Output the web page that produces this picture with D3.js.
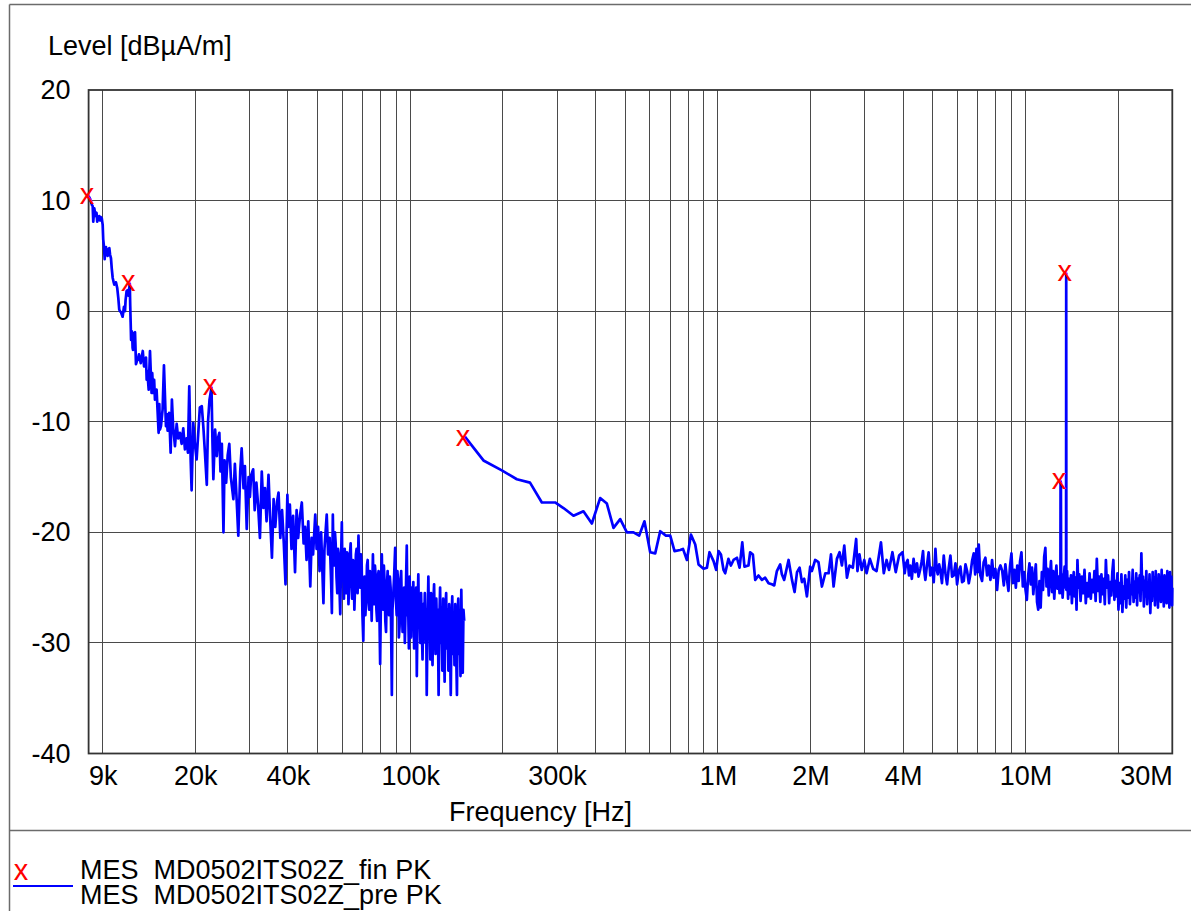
<!DOCTYPE html>
<html><head><meta charset="utf-8">
<script src="https://cdn.jsdelivr.net/npm/d3@7/dist/d3.min.js"></script>
<style>
html,body{margin:0;padding:0;background:#fff;}
svg{display:block;font-family:"Liberation Sans",Arial,Helvetica,sans-serif;}
</style></head><body>
<svg id="c" width="1191" height="911"></svg>
<script>
// ---- axis / tick data ----
const xTickValues = [9e3, 2e4, 4e4, 1e5, 3e5, 1e6, 2e6, 4e6, 1e7, 3e7];
const xTickLabels = ["9k", "20k", "40k", "100k", "300k", "1M", "2M", "4M", "10M", "30M"];
const yTickValues = [20, 10, 0, -10, -20, -30, -40];
const yTickLabels = ["20", "10", "0", "-10", "-20", "-30", "-40"];

// ---- final (fin PK) markers ----
const finFreqHz = [9000, 12250, 22580, 150000, 13000000, 13560000];
const finLevel = [10.4, 2.5, -6.9, -11.5, -15.4, 3.4];

// ---- preview scan 9 kHz - 150 kHz  [kHz, dBuA/m] ----
const preLowKHz = [
[9.00,10.4],[9.09,10.2],[9.16,9.9],[9.23,9.6],[9.28,9.5],[9.32,8.1],[9.39,9.3],[9.44,8.9],[9.49,8.6],[9.55,8.9],
[9.60,8.1],[9.67,8.4],[9.74,8.6],[9.80,8.2],[9.86,8.5],[9.93,8.4],[10.00,7.8],[10.04,6.5],[10.10,5.8],[10.15,4.7],
[10.19,5.6],[10.25,5.8],[10.31,5.2],[10.38,5.0],[10.44,5.6],[10.51,5.7],[10.57,5.1],[10.64,4.8],[10.70,3.9],[10.78,3.0],
[10.84,2.7],[10.91,2.4],[10.98,2.6],[11.05,2.6],[11.15,2.1],[11.24,1.2],[11.32,0.15],[11.38,0.0],[11.47,-0.1],[11.61,-0.5],
[11.73,0.4],[11.82,0.0],[11.87,1.0],[11.96,1.8],[12.05,1.9],[12.13,1.4],[12.25,2.5],[12.29,0.5],[12.33,-1.0],[12.37,-2.6],
[12.42,-1.8],[12.47,-2.0],[12.51,-3.3],[12.55,-3.5],[12.64,-2.0],[12.74,-1.9],[12.83,-4.8],[12.89,-4.6],[13.06,-4.2],[13.12,-3.9],
[13.30,-4.7],[13.50,-3.6],[13.63,-5.0],[13.83,-4.2],[13.90,-6.2],[13.97,-5.4],[14.11,-7.1],[14.25,-3.6],[14.35,-5.9],[14.42,-7.4],
[14.49,-5.6],[14.60,-7.4],[14.70,-6.2],[14.79,-8.0],[14.97,-7.1],[15.20,-11.0],[15.28,-8.4],[15.35,-10.7],[15.47,-10.4],[15.66,-8.9],
[15.82,-4.9],[16.06,-10.4],[16.14,-9.3],[16.26,-10.8],[16.45,-9.2],[16.63,-12.8],[16.79,-8.0],[16.95,-10.5],[17.18,-12.2],[17.40,-10.2],
[17.60,-11.5],[17.83,-11.0],[18.06,-12.0],[18.28,-10.6],[18.51,-12.5],[18.74,-11.5],[18.93,-12.8],[19.12,-6.8],[19.32,-13.4],[19.46,-16.2],
[19.70,-10.1],[19.94,-12.0],[20.2,-13.4],[20.7,-8.7],[21.0,-8.6],[21.25,-10.5],[21.5,-12.8],[21.8,-15.7],[22.0,-10.0],[22.25,-8.0],
[22.58,-6.9],[22.75,-11.9],[22.9,-15.2],[23.2,-10.7],[23.5,-13.1],[23.7,-11.5],[23.95,-11.0],[24.15,-14.5],[24.4,-12.0],[24.7,-20.0],
[24.9,-13.5],[25.2,-15.5],[25.5,-13.0],[25.8,-12.0],[26.1,-15.0],[26.6,-17.0],[26.9,-13.8],[27.2,-16.5],[27.6,-20.3],[28.0,-14.5],
[28.3,-12.4],[28.7,-16.0],[29.0,-14.0],[29.4,-19.7],[29.8,-15.0],[30.1,-16.8],[30.4,-14.8],[30.85,-14.3],[31.2,-18.0],[31.6,-15.5],
[32.0,-17.5],[32.45,-20.5],[32.9,-14.5],[33.3,-17.8],[33.7,-16.0],[34.1,-19.0],[34.6,-14.8],[35.0,-18.5],[35.5,-22.3],[35.95,-17.0],
[36.4,-19.5],[36.9,-17.2],[37.3,-16.4],[37.8,-20.5],[38.3,-18.0],[38.8,-21.0],[39.3,-24.7],[39.85,-16.6],[40.1,-19.5],[40.6,-17.5],
[41.1,-21.5],[41.6,-18.5],[42.2,-23.6],[42.7,-18.0],[43.2,-20.5],[43.8,-18.5],[44.4,-17.3],[45.0,-21.0],[45.5,-19.5],[46.0,-22.5],
[46.6,-19.0],[47.3,-24.9],[47.8,-20.5],[48.3,-22.0],[49.1,-18.4],[49.6,-21.5],[50.15,-19.5],[50.7,-23.5],[51.3,-20.0],[52.2,-26.4],
[52.6,-21.5],[53.5,-18.4],[54.05,-22.0],[54.7,-20.5],[55.3,-24.5],[55.6,-27.3],[56.0,-18.4],[56.3,-22.5],[56.6,-23.0],[56.9,-20.0],
[57.2,-21.0],[57.55,-24.0],[57.9,-25.5],[58.2,-21.5],[58.5,-22.0],[58.85,-25.0],[59.2,-27.4],[59.55,-22.5],[59.9,-19.1],[60.2,-24.0],
[60.5,-23.5],[60.85,-26.0],[61.2,-21.5],[61.55,-23.0],[61.9,-25.5],[62.25,-21.8],[62.6,-22.0],[62.95,-26.5],[63.3,-24.5],[63.65,-22.0],
[64.0,-21.0],[64.35,-24.0],[64.7,-26.0],[65.1,-22.5],[65.45,-23.0],[65.8,-27.0],[66.2,-24.5],[66.55,-22.0],[66.9,-21.5],[67.4,-25.5],
[67.85,-20.3],[68.3,-23.5],[68.7,-25.0],[69.1,-22.0],[69.5,-23.0],[69.9,-27.5],[70.35,-29.8],[70.7,-25.0],[71.0,-24.0],[71.45,-27.5],
[71.9,-26.0],[72.3,-23.0],[72.7,-22.5],[73.1,-26.0],[73.5,-27.0],[73.9,-23.5],[74.3,-24.0],[74.9,-28.0],[75.6,-22.0],[75.95,-25.5],
[76.3,-26.5],[76.75,-23.0],[77.2,-24.0],[77.6,-27.0],[78.0,-28.0],[78.45,-24.0],[78.9,-23.5],[79.35,-27.0],[79.8,-31.9],[80.3,-25.5],
[80.8,-22.0],[81.2,-25.0],[81.6,-27.0],[82.05,-23.0],[82.5,-24.5],[82.95,-28.0],[83.4,-29.0],[83.9,-25.0],[84.4,-23.5],[84.85,-26.5],
[85.3,-27.5],[85.8,-24.0],[86.3,-25.0],[86.7,-29.5],[87.1,-34.7],[87.5,-27.0],[87.9,-26.0],[88.6,-24.0],[89.3,-21.4],[89.8,-26.0],
[90.3,-27.5],[90.8,-23.5],[91.3,-24.5],[91.8,-29.5],[92.3,-28.5],[92.85,-24.5],[93.4,-23.5],[93.9,-27.0],[94.4,-29.0],[94.95,-25.5],
[95.5,-25.0],[96.0,-30.0],[96.5,-27.0],[96.95,-24.0],[97.4,-21.2],[97.9,-27.5],[98.4,-26.5],[98.95,-30.5],[99.5,-24.0],[100.0,-27.0],
[100.6,-29.5],[101.2,-25.0],
[101.7,-27.5],[102.3,-24.5],[102.9,-30.5],[103.4,-26.5],[104.0,-28.0],[104.5,-25.0],[105.0,-33.0],[105.6,-27.0],[106.2,-23.8],[106.7,-28.5],
[107.2,-26.0],[107.8,-30.0],[108.4,-25.5],[109.0,-28.5],[109.6,-31.5],[110.2,-26.5],[110.9,-29.0],[111.5,-25.5],[112.1,-30.0],[112.6,-27.0],
[113.1,-34.7],[113.8,-28.0],[114.5,-24.0],[115.0,-29.0],[115.5,-26.5],[116.2,-31.5],[116.8,-25.5],[117.4,-29.0],[118.1,-32.0],[118.8,-26.5],
[119.5,-24.7],[120.1,-28.5],[120.8,-31.0],[121.5,-26.0],[122.2,-29.5],[122.9,-27.0],[123.6,-34.7],[124.3,-28.0],[125.0,-25.0],[125.7,-30.0],
[126.4,-27.5],[127.1,-32.5],[127.9,-26.0],[128.6,-29.5],[129.3,-33.5],[130.0,-27.0],[130.8,-25.5],[131.5,-30.5],[132.3,-27.0],[133.0,-32.5],
[133.8,-26.5],[134.6,-30.0],[135.4,-34.7],[136.1,-28.5],[136.9,-25.8],[137.7,-31.0],[138.5,-27.5],[139.2,-32.0],[140.0,-26.5],[140.9,-30.5],
[141.8,-34.7],[142.5,-27.5],[143.2,-26.0],[144.0,-31.0],[144.8,-27.5],[145.6,-33.0],[146.5,-25.2],[147.3,-30.0],[148.1,-32.7],[148.9,-27.0],
[149.7,-28.0]
];

// ---- preview scan 150 kHz - 30 MHz  [MHz, dBuA/m] ----
const preHighMHz = [
[0.150,-11.3],[0.1729,-13.5],[0.1984,-14.4],[0.222,-15.2],[0.245,-15.5],[0.2677,-17.3],[0.2957,-17.3],[0.3147,-17.8],[0.3392,-18.5],[0.3655,-18.1],
[0.3892,-19.2],[0.4142,-16.9],[0.4355,-17.4],[0.4577,-19.6],[0.4813,-18.8],[0.5059,-20.0],[0.5315,-20.0],[0.5547,-20.3],[0.5771,-19.0],[0.6023,-21.8],
[0.6254,-21.9],[0.6492,-19.9],[0.6776,-20.3],[0.6998,-20.3],[0.7227,-21.7],[0.7542,-21.6],[0.7700,-21.5],[0.7930,-22.5],[0.8171,-20.2],[0.8439,-21.1],
[0.865,-22.9],[0.898,-23.3],[0.921,-23.2],[0.939,-21.8],[0.968,-22.6],[0.987,-23.4],[1.005,-21.7],[1.023,-22.0],[1.043,-23.4],[1.056,-23.7],
[1.082,-22.4],[1.102,-23.0],[1.124,-22.5],[1.153,-22.3],[1.176,-23.2],[1.200,-20.9],[1.220,-23.1],[1.257,-23.0],[1.273,-21.8],[1.299,-22.0],
[1.322,-24.3],[1.355,-23.9],[1.390,-24.3],[1.424,-24.1],[1.461,-24.6],[1.498,-24.7],[1.524,-24.8],[1.555,-23.5],[1.594,-22.9],[1.614,-23.8],
[1.642,-24.3],[1.697,-22.5],[1.741,-24.3],[1.775,-25.4],[1.808,-23.6],[1.843,-23.2],[1.876,-24.5],[1.908,-24.2],[1.947,-25.8],[1.995,-23.1],
[2.020,-23.5],[2.071,-22.5],[2.123,-22.7],[2.178,-24.9],[2.234,-23.7],[2.290,-23.7],[2.331,-22.0],[2.377,-24.9],[2.437,-22.4],[2.486,-21.8],
[2.530,-23.0],[2.575,-21.2],[2.627,-24.1],[2.678,-23.0],[2.745,-23.2],[2.815,-20.6],[2.842,-23.5],[2.885,-22.0],[2.935,-23.4],[2.991,-22.5],
[3.043,-23.7],[3.119,-22.4],[3.197,-23.3],[3.279,-23.5],[3.389,-20.9],[3.461,-23.7],[3.534,-22.5],[3.599,-23.4],[3.692,-21.8],[3.785,-23.6],
[3.882,-22.1],[3.983,-21.8],[4.048,-23.7],[4.09,-22.8],[4.138,-22.5],[4.18,-23.9],[4.219,-23.0],[4.27,-24.2],[4.326,-22.4],[4.38,-23.6],
[4.438,-22.8],[4.49,-24.0],[4.550,-23.3],[4.60,-22.6],[4.643,-21.7],[4.68,-23.4],[4.725,-24.3],[4.78,-23.0],[4.843,-21.8],[4.90,-23.9],
[4.969,-23.2],[5.03,-24.5],[5.095,-21.5],[5.14,-23.3],[5.183,-23.8],[5.24,-22.9],[5.289,-23.5],[5.35,-24.6],[5.422,-22.1],[5.49,-23.7],
[5.559,-24.7],[5.63,-23.2],[5.700,-22.1],[5.77,-24.0],[5.844,-23.9],[5.92,-22.8],[5.991,-24.7],[6.07,-23.5],[6.143,-23.1],[6.22,-24.5],
[6.298,-24.4],[6.38,-22.9],[6.457,-23.5],[6.54,-24.6],[6.620,-23.8],[6.70,-22.6],[6.788,-21.9],[6.86,-23.8],[6.926,-21.5],[6.99,-23.6],
[7.046,-21.1],[7.13,-23.9],[7.224,-24.4],[7.31,-22.7],[7.405,-22.3],[7.50,-23.9],[7.593,-23.0],[7.69,-24.3],[7.785,-22.5],[7.88,-24.1],
[7.981,-23.3],[8.083,-25.2],[8.18,-23.4],[8.287,-23.0],[8.4,-23.5],[8.5,-24.8],[8.6,-22.9],[8.7,-24.2],[8.8,-25.3],[8.9,-23.1],
[9.0,-21.9],[9.1,-24.6],[9.2,-23.4],[9.3,-25.0],[9.4,-23.0],[9.5,-24.4],[9.6,-22.6],[9.7,-21.8],[9.8,-24.9],[9.9,-23.6],
[10.0,-25.2],[10.1,-26.1],[10.2,-23.9],[10.3,-22.8],[10.4,-24.7],[10.5,-23.2],[10.6,-25.6],[10.7,-24.1],[10.8,-22.9],[10.9,-26.3],
[11.0,-27.0],[11.1,-24.4],[11.2,-26.8],[11.3,-23.6],[11.4,-25.2],[11.5,-22.2],[11.6,-21.4],[11.7,-24.9],[11.8,-23.3],[11.9,-25.7],
[12.0,-24.0],[12.1,-22.6],[12.2,-25.4],[12.3,-23.5],[12.4,-26.0],[12.5,-24.2],[12.6,-23.0],[12.7,-25.1],[12.8,-24.0],[12.9,-25.5],
[12.98,-24.8],[13.0,-15.4],[13.03,-15.5],[13.06,-25.5],[13.1,-23.8],[13.2,-25.9],[13.3,-24.3],[13.4,-23.1],[13.5,-25.0],[13.545,-24.5],
[13.56,3.4],[13.575,-25.2],[13.65,-23.5],[13.75,-26.0],[13.85,-24.2],[13.95,-25.6],[14.05,-23.9],[14.15,-26.4],[14.25,-24.5],[14.35,-23.6],
[14.45,-25.8],[14.55,-24.1],[14.65,-27.0],[14.75,-22.5],[14.85,-25.0],[14.95,-23.8],[15.1,-26.2],[15.25,-24.0],[15.4,-25.5],[15.55,-23.4],
[15.7,-26.4],[15.85,-24.6],[16.0,-25.8],[16.15,-23.7],[16.3,-26.0],[16.45,-24.3],[16.6,-25.4],[16.75,-23.5],[16.9,-26.2],[17.05,-22.4],
[17.2,-25.3],[17.35,-24.0],[17.5,-26.3],[17.65,-23.8],[17.8,-25.6],[17.95,-24.2],[18.1,-26.5],[18.25,-22.5],[18.4,-25.0],[18.55,-23.9],
[18.7,-26.4],[18.85,-24.5],[19.0,-25.7],[19.15,-23.6],[19.3,-22.5],[19.45,-26.1],[19.6,-24.4],[19.75,-25.8],[19.9,-23.7],[20.05,-27.0],
[20.2,-24.6],[20.35,-26.4],[20.5,-23.8],[20.65,-27.2],[20.8,-24.9],[20.95,-26.0],[21.1,-23.9],[21.25,-26.8],[21.4,-24.3],[21.55,-25.9],
[21.7,-23.6],[21.85,-26.5],[22.0,-24.8],[22.15,-25.6],[22.3,-23.4],[22.45,-26.3],[22.6,-24.5],[22.75,-25.9],[22.9,-23.7],[23.05,-26.6],
[23.2,-24.2],[23.35,-25.4],[23.5,-23.9],[23.65,-26.2],[23.8,-21.9],[23.95,-25.1],[24.1,-24.0],[24.25,-26.7],[24.4,-24.4],[24.55,-25.8],
[24.7,-23.5],[24.85,-26.5],[25.0,-24.6],[25.15,-25.9],[25.3,-23.8],[25.45,-27.3],[25.6,-24.9],[25.75,-26.2],[25.9,-23.6],[26.05,-25.7],
[26.2,-24.1],[26.35,-26.6],[26.5,-23.5],[26.65,-25.9],[26.8,-24.3],[26.95,-26.8],[27.1,-23.8],[27.25,-25.4],[27.4,-24.6],[27.55,-26.3],
[27.7,-23.4],[27.85,-25.8],[28.0,-24.2],[28.15,-26.7],[28.3,-23.9],[28.45,-25.6],[28.6,-24.7],[28.75,-26.4],[28.9,-23.5],[29.05,-26.0],
[29.2,-24.3],[29.35,-26.8],[29.5,-23.6],[29.65,-25.5],[29.8,-24.0],[29.95,-26.6],[30.0,-25.0]
];

// ---- legend text ----
const legendLabels = ["MES  MD0502ITS02Z_fin PK", "MES  MD0502ITS02Z_pre PK"];

// ================== drawing ==================
const svg = d3.select("#c");
const W = 1191, H = 911;
const plot = {left: 88.6, right: 1172.3, top: 90, bottom: 753.5};

const x = d3.scaleLog().domain([9e3, 30e6]).range([plot.left, plot.right]);
const y = d3.scaleLinear().domain([-40, 20]).range([plot.bottom, plot.top]);

svg.append("rect").attr("width", W).attr("height", H).attr("fill", "#fff");

// outer frame
const frame = svg.append("g").attr("stroke", "#6b6b6b").attr("stroke-width", 1.5).attr("fill", "none");
frame.append("line").attr("x1", 9.5).attr("x2", W).attr("y1", 4.5).attr("y2", 4.5);
frame.append("line").attr("x1", 9.5).attr("x2", 9.5).attr("y1", 4.5).attr("y2", H);
frame.append("line").attr("x1", 9.5).attr("x2", W).attr("y1", 830.5).attr("y2", 830.5);

// grid
const grid = svg.append("g").attr("stroke", "#4a4a4a").attr("stroke-width", 1).attr("shape-rendering", "crispEdges");
const vGrid = x.ticks().filter(v => v > 9e3 * 1.001 && v < 30e6 * 0.999);
grid.selectAll("line.v").data(vGrid).join("line")
  .attr("x1", d => x(d)).attr("x2", d => x(d)).attr("y1", plot.top).attr("y2", plot.bottom);
grid.selectAll("line.h").data(yTickValues.filter(v => v > -40 && v < 20)).join("line")
  .attr("x1", plot.left).attr("x2", plot.right).attr("y1", d => y(d)).attr("y2", d => y(d));

// plot border
svg.append("rect").attr("x", plot.left).attr("y", plot.top)
  .attr("width", plot.right - plot.left).attr("height", plot.bottom - plot.top)
  .attr("fill", "none").attr("stroke", "#333").attr("stroke-width", 1.8);

// axes
const fontSize = 27;
const xAxis = d3.axisBottom(x).tickValues(xTickValues).tickFormat((d, i) => xTickLabels[i]).tickSize(0).tickPadding(12);
const gx = svg.append("g").attr("transform", `translate(0,${plot.bottom})`).call(xAxis);
gx.select(".domain").remove();
gx.selectAll("text").attr("font-size", fontSize).attr("fill", "#000")
  .attr("font-family", '"Liberation Sans",Arial,sans-serif')
  .attr("text-anchor", (d, i) => i === 0 ? "start" : (i === xTickValues.length - 1 ? "end" : "middle"));

const yAxis = d3.axisLeft(y).tickValues(yTickValues).tickFormat((d, i) => yTickLabels[i]).tickSize(0).tickPadding(18);
const gy = svg.append("g").attr("transform", `translate(${plot.left},0)`).call(yAxis);
gy.select(".domain").remove();
gy.selectAll("text").attr("font-size", fontSize).attr("fill", "#000")
  .attr("font-family", '"Liberation Sans",Arial,sans-serif');

// axis titles
svg.append("text").attr("x", 48).attr("y", 55).attr("font-size", fontSize).text("Level [dBµA/m]");
svg.append("text").attr("x", 449).attr("y", 821).attr("font-size", fontSize).text("Frequency [Hz]");

// preview lines
const line = d3.line().x(d => x(d[0])).y(d => y(d[1]));
const lowHz = preLowKHz.map(d => [d[0] * 1e3, d[1]]);
const highHz = preHighMHz.map(d => [d[0] * 1e6, d[1]]);
const gl = svg.append("g").attr("fill", "none").attr("stroke", "#0000ff").attr("stroke-width", 2.7).attr("stroke-linejoin", "round");
gl.append("path").attr("d", line(lowHz));
gl.append("path").attr("d", line(highHz));

// final markers
const markerSize = 29;
svg.append("g").selectAll("text").data(finFreqHz.map((f, i) => [f, finLevel[i]])).join("text")
  .attr("x", d => x(d[0]) - 1.5).attr("y", d => y(d[1]) + markerSize * 0.26)
  .attr("text-anchor", "middle").attr("font-size", markerSize).attr("fill", "#ff0000").text("x");

// legend
svg.append("text").attr("x", 21).attr("y", 880).attr("text-anchor", "middle")
  .attr("font-size", markerSize).attr("fill", "#ff0000").text("x");
svg.append("line").attr("x1", 13).attr("x2", 73).attr("y1", 886).attr("y2", 886)
  .attr("stroke", "#0000ff").attr("stroke-width", 2.2);
svg.append("g").selectAll("text").data(legendLabels).join("text")
  .attr("x", 80).attr("y", (d, i) => 879 + i * 25).attr("font-size", fontSize)
  .style("white-space", "pre").text(d => d);
</script>
</body></html>
